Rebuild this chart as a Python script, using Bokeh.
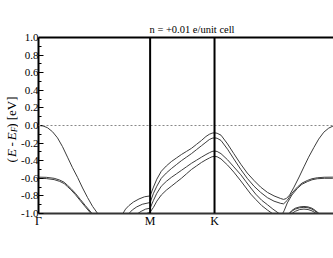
import math
from bokeh.plotting import figure
from bokeh.layouts import row
from bokeh.models import (Range1d, FixedTicker, CustomJSTickFormatter, LinearAxis,
                          Span, ColumnDataSource)
from bokeh.core.properties import value
from bokeh.embed import file_html
from bokeh.resources import INLINE

# ---- data (k in units of |Gamma-M|, energies in eV) ----
k_ticks = [0.0, 1.0, 1.577]
k_tick_labels = ["Γ", "M", "K"]
e_ticks = [-1.0, -0.8, -0.6, -0.4, -0.2, 0.0, 0.2, 0.4, 0.6, 0.8, 1.0]
e_minor = [-0.9, -0.7, -0.5, -0.3, -0.1, 0.1, 0.3, 0.5, 0.7, 0.9]

kA = [0, 0.04, 0.08, 0.125, 0.17, 0.215, 0.26, 0.305, 0.35, 0.395, 0.44, 0.485, 0.53, 0.58]
eA = [0.0, -0.005, -0.025, -0.07, -0.14, -0.24, -0.36, -0.48, -0.59, -0.71, -0.82, -0.92, -1.0, -1.08]

kB = [0, 0.07, 0.14, 0.19, 0.23, 0.26, 0.29, 0.33, 0.375, 0.42, 0.48, 0.54]
eB1 = [-0.587, -0.589, -0.60, -0.62, -0.645, -0.68, -0.715, -0.77, -0.84, -0.91, -1.0, -1.08]
eB2 = [-0.600, -0.603, -0.615, -0.635, -0.66, -0.695, -0.73, -0.785, -0.855, -0.925, -1.015, -1.095]

kL1 = [0.72, 0.756, 0.78, 0.81, 0.85, 0.90, 0.95, 1.0]
eL1 = [-1.08, -1.0, -0.95, -0.91, -0.87, -0.835, -0.81, -0.80]
kL2 = [0.78, 0.81, 0.84, 0.88, 0.93, 1.0]
eL2 = [-1.06, -1.0, -0.96, -0.925, -0.895, -0.875]
kL3 = [0.87, 0.89, 0.92, 0.96, 1.0]
eL3 = [-1.04, -1.0, -0.975, -0.95, -0.94]
kL4 = [0.955, 0.97, 0.985, 1.0]
eL4 = [-1.03, -1.0, -0.99, -0.985]

kC1 = [1.0, 1.03, 1.06, 1.10, 1.145, 1.19, 1.235, 1.28, 1.325, 1.37, 1.415, 1.46, 1.50,
       1.53, 1.555, 1.577, 1.60, 1.635, 1.694, 1.75, 1.8125, 1.87, 1.931, 1.99, 2.051,
       2.11, 2.17, 2.196, 2.22, 2.25, 2.289, 2.335, 2.378, 2.42, 2.467, 2.51, 2.556,
       2.60, 2.631, 2.68, 2.732]
eC1 = [-0.80, -0.70, -0.61, -0.52, -0.46, -0.41, -0.37, -0.33, -0.295, -0.26, -0.215,
       -0.17, -0.125, -0.10, -0.087, -0.083, -0.088, -0.11, -0.21, -0.32, -0.44, -0.54,
       -0.625, -0.70, -0.76, -0.80, -0.83, -0.84, -0.83, -0.79, -0.70, -0.585, -0.47,
       -0.36, -0.25, -0.155, -0.076, -0.03, -0.011, -0.002, 0.0]

kC2 = [1.0, 1.03, 1.06, 1.10, 1.145, 1.19, 1.235, 1.28, 1.325, 1.37, 1.415, 1.46, 1.50,
       1.53, 1.555, 1.577, 1.60, 1.635, 1.694, 1.75, 1.8125, 1.87, 1.931, 1.99, 2.051,
       2.11, 2.17, 2.196, 2.229, 2.27, 2.319, 2.36, 2.408, 2.45, 2.497, 2.56, 2.631, 2.732]
eC2 = [-0.875, -0.77, -0.69, -0.60, -0.54, -0.49, -0.445, -0.40, -0.36, -0.32, -0.275,
       -0.23, -0.19, -0.16, -0.145, -0.14, -0.145, -0.17, -0.27, -0.38, -0.50, -0.60,
       -0.69, -0.76, -0.82, -0.86, -0.885, -0.89, -0.85, -0.77, -0.70, -0.655, -0.625,
       -0.605, -0.594, -0.588, -0.587, -0.587]

kP2 = [2.17, 2.20, 2.229, 2.27, 2.319, 2.36, 2.408, 2.45, 2.497, 2.56, 2.631, 2.732]
eP2 = [-1.04, -0.97, -0.88, -0.79, -0.715, -0.668, -0.638, -0.617, -0.605, -0.60, -0.60, -0.60]

kC3 = [1.0, 1.03, 1.06, 1.10, 1.145, 1.19, 1.235, 1.28, 1.325, 1.37, 1.415, 1.46, 1.50,
       1.53, 1.555, 1.577, 1.60, 1.635, 1.694, 1.75, 1.8125, 1.86, 1.902, 1.946, 2.0,
       2.051, 2.10, 2.155, 2.2]
eC3 = [-0.94, -0.85, -0.77, -0.69, -0.635, -0.59, -0.55, -0.51, -0.47, -0.43, -0.395,
       -0.36, -0.33, -0.31, -0.295, -0.29, -0.295, -0.32, -0.39, -0.47, -0.56, -0.64,
       -0.71, -0.78, -0.85, -0.90, -0.95, -1.0, -1.04]

kC4 = [1.0, 1.03, 1.06, 1.10, 1.145, 1.19, 1.235, 1.28, 1.325, 1.37, 1.415, 1.46, 1.50,
       1.53, 1.555, 1.577, 1.60, 1.635, 1.694, 1.75, 1.8125, 1.86, 1.902, 1.946, 2.0,
       2.05, 2.095, 2.15]
eC4 = [-0.985, -0.93, -0.86, -0.79, -0.735, -0.69, -0.645, -0.60, -0.55, -0.50, -0.46,
       -0.42, -0.39, -0.37, -0.355, -0.35, -0.355, -0.38, -0.45, -0.53, -0.63, -0.71,
       -0.78, -0.84, -0.91, -0.96, -1.0, -1.04]

kD1 = [2.22, 2.244, 2.27, 2.30, 2.34, 2.378, 2.415, 2.45, 2.48, 2.513, 2.54]
eD1 = [-1.04, -1.0, -0.965, -0.94, -0.925, -0.92, -0.925, -0.94, -0.965, -1.0, -1.04]
kD2 = [2.225, 2.25, 2.275, 2.30, 2.34, 2.378, 2.415, 2.45, 2.475, 2.505, 2.53]
eD2 = [-1.04, -1.0, -0.97, -0.95, -0.935, -0.93, -0.935, -0.95, -0.97, -1.0, -1.04]
kD3 = [2.25, 2.27, 2.30, 2.34, 2.378, 2.415, 2.45, 2.49, 2.51]
eD3 = [-1.03, -1.0, -0.975, -0.955, -0.95, -0.955, -0.97, -1.0, -1.03]

bands = [(kA, eA), (kB, eB1), (kB, eB2), (kL1, eL1), (kL2, eL2), (kL3, eL3), (kL4, eL4),
         (kC1, eC1), (kC2, eC2), (kP2, eP2), (kC3, eC3), (kC4, eC4),
         (kD1, eD1), (kD2, eD2), (kD3, eD3)]

title_text = "n = +0.01 e/unit cell"

# y-axis label pieces: "(E - E_F)  [eV]"
ylab_text = ["(", "E", "-", "E", "F", ")", "[eV]"]
ylab_style = ["normal", "italic", "normal", "italic", "italic", "normal", "normal"]
ylab_size = ["13px", "13px", "13px", "13px", "9px", "13px", "13px"]

FONT = "Liberation Serif"

# ---------------- layout geometry ----------------
LW = 18          # width of the y-label strip
H = 238
FRAME_LEFT = 37  # page px
FRAME_TOP = 37
PX_PER_K = 112.0

p = figure(width=333 - LW, height=H, output_backend="svg", toolbar_location=None,
           x_range=Range1d(0, (333 - FRAME_LEFT) / PX_PER_K), y_range=Range1d(-1.0, 1.0),
           min_border_left=FRAME_LEFT - LW, min_border_top=FRAME_TOP,
           min_border_right=0, min_border_bottom=25, title=title_text)
p.outline_line_color = None
p.xgrid.visible = False
p.ygrid.visible = False
p.background_fill_color = "white"
p.border_fill_color = "white"

p.title.text_font = FONT
p.title.text_font_size = "10.5px"
p.title.text_font_style = "normal"
p.title.text_color = "black"
p.title.align = "left"
p.title.offset = 111
p.title.standoff = 5

for kk, ee in bands:
    p.line(kk, ee, line_color="#3c3c3c", line_width=1)

p.add_layout(Span(location=0.0, dimension="width", line_color="#888888",
                  line_width=1, line_dash="2 2"))
for loc in k_ticks[1:]:
    p.add_layout(Span(location=loc, dimension="height", line_color="black",
                      line_width=2))

# y axis
ya = p.yaxis[0]
ya.ticker = FixedTicker(ticks=e_ticks, minor_ticks=e_minor)
ya.formatter = CustomJSTickFormatter(code="return tick.toFixed(1);")
ya.major_tick_in = 5
ya.major_tick_out = 0
ya.minor_tick_in = 3
ya.minor_tick_out = 0
ya.axis_line_width = 2
ya.major_tick_line_width = 1
ya.major_label_standoff = 0
ya.major_label_text_font = FONT
ya.major_label_text_font_size = "11px"
ya.major_label_text_color = "black"

# x axis
xa = p.xaxis[0]
xa.ticker = FixedTicker(ticks=k_ticks)
xa.formatter = CustomJSTickFormatter(
    args=dict(labels=k_tick_labels), code="return labels[index];")
xa.major_tick_in = 0
xa.major_tick_out = 0
xa.minor_tick_line_color = None
xa.axis_line_width = 2
xa.axis_line_color = "#333333"
xa.major_label_standoff = 0
xa.major_label_text_font = FONT
xa.major_label_text_font_size = "12px"
xa.major_label_text_color = "black"

# top border
top = LinearAxis(ticker=FixedTicker(ticks=[]), axis_line_width=2,
                 major_tick_line_color=None, minor_tick_line_color=None,
                 major_label_text_font_size="0px", major_label_standoff=0)
p.add_layout(top, "above")

# ---------------- y label strip ----------------
q = figure(width=LW, height=H, output_backend="svg", toolbar_location=None,
           x_range=Range1d(0, LW), y_range=Range1d(0, H),
           min_border=0, x_axis_type=None, y_axis_type=None)
q.outline_line_color = None
q.xgrid.visible = False
q.ygrid.visible = False
q.background_fill_color = "white"
q.border_fill_color = "white"

ylab_px_y = [169, 161.5, 147.5, 139, 128, 122, 112]   # start position (page px, from top)
ylab_px_x = [11, 11, 11, 11, 13.5, 11, 11]            # baseline (page px)
src = ColumnDataSource(dict(x=ylab_px_x, y=[H - v for v in ylab_px_y],
                            text=ylab_text, style=ylab_style, size=ylab_size))
q.text(x="x", y="y", text="text", source=src, angle=math.pi / 2,
       text_align="left", text_baseline="alphabetic", text_font=value(FONT),
       text_font_style="style", text_font_size="size", text_color="black")

layout = row(q, p, spacing=0)
open("out.html", "w").write(file_html(layout, INLINE))
